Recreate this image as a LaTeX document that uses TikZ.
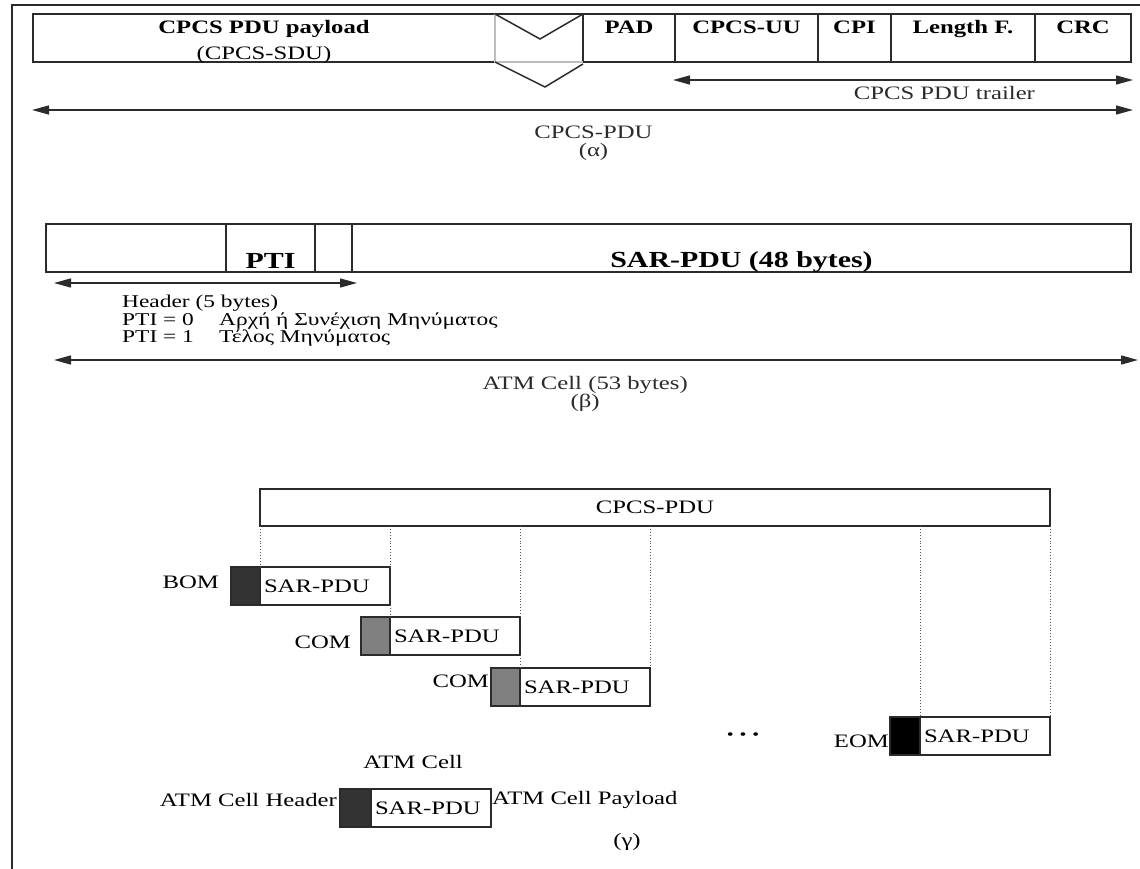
\documentclass[tikz,border=0pt]{standalone}
\usepackage{fontspec}
\setmainfont{Liberation Serif}[FakeStretch=1.3]
\usepackage{xcolor}
\usepackage{tikz}
\usetikzlibrary{arrows.meta,positioning}
\definecolor{cLine}{HTML}{2B2B2B}
\definecolor{cBreak}{HTML}{BDBDBD}
\definecolor{cBom}{HTML}{333333}
\definecolor{cCom}{HTML}{808080}
\definecolor{cEom}{HTML}{000000}
\definecolor{cGuide}{HTML}{555555}
\newcommand{\labfont}{\fontsize{19}{17}\selectfont}
\tikzset{
  >={Triangle[length=17pt,width=9pt]},
  outline/.style={cLine,line width=1.5pt},
  cell/.style   ={draw=cLine,line width=1.5pt,inner sep=0pt,outer sep=0pt,minimum height=48pt},
  piece/.style  ={draw=cLine,line width=1.5pt,inner sep=0pt,outer sep=0pt,minimum height=38pt},
  hdr/.style    ={piece,minimum width=29pt},
  sar/.style    ={piece,text width=122pt,inner xsep=4pt,align=left,font=\labfont},
  dim/.style    ={<->,cLine,line width=1.4pt},
  guide/.style  ={cGuide,line width=0.9pt,dotted},
  rim/.style    ={cLine,line width=2pt},
  brk/.style    ={cBreak,line width=1.2pt},
  lbl/.style    ={inner sep=0pt,font=\labfont},
  blbl/.style   ={inner sep=0pt,font=\labfont\bfseries},
  big/.style    ={inner sep=0pt,font=\fontsize{23}{23}\selectfont\bfseries},
  note/.style   ={inner sep=0pt,align=left,font=\fontsize{18}{14.5}\selectfont},
  caption/.style={inner sep=0pt,align=center,font=\fontsize{19}{18}\selectfont},
}

\begin{document}
\begin{tikzpicture}[x=1pt,y=-1pt]
  \useasboundingbox (0,0) rectangle (1140,869);
  \draw[rim] (11.5,869) -- (11.5,5.5) -- (1140,5.5);

  \node[cell,draw=none,minimum width=462pt,anchor=north west] (pay) at (33,14) {};
  \node[cell,minimum width=92pt,anchor=north west] (pad) at (583,14) {};
  \node[cell,minimum width=143pt,right=0pt of pad] (uu) {};
  \node[cell,minimum width=73pt,right=0pt of uu] (cpi) {};
  \node[cell,minimum width=144pt,right=0pt of cpi] (len) {};
  \node[cell,minimum width=96pt,right=0pt of len] (crc) {};
  \draw[outline] (pay.north east) -- (pay.north west) -- (pay.south west) -- (pay.south east);
  \draw[outline] (pay.north east) -- (pad.north west);
  \draw[brk] (pay.north east) -- (pay.south east) -- (pad.south west);
  \draw[outline] (pay.north east) -- ++(45,25) -- (pad.north west);
  \draw[outline] (pay.south east) -- ++(50,25) -- ([yshift=-2pt]pad.south west);
  \node[blbl,anchor=base] (pay-t) at ([yshift=-20pt]pay.north) {CPCS PDU payload};
  \node[lbl,anchor=base] (pay-s) at ([yshift=2pt]pay.south) {(CPCS-SDU)};
  \foreach \c/\t in {pad/PAD,uu/CPCS-UU,cpi/CPI,len/Length F.,crc/CRC}
    \node[blbl,anchor=base] (\c-t) at ([yshift=-20pt]\c.north) {\t};
  \coordinate (trL) at ([xshift=-2pt,yshift=-18pt]uu.south west);
  \coordinate (trR) at ([xshift=2pt,yshift=-18pt]crc.south east);
  \draw[dim] (trL) -- (trR) node[lbl,pos=0.59,below=6pt] (tr-t) {CPCS PDU trailer};
  \coordinate (pduL) at ([xshift=-1pt,yshift=-48pt]pay.south west);
  \coordinate (pduR) at ([xshift=2pt,yshift=-48pt]crc.south east);
  \draw[dim] (pduL) -- (pduR) node[caption,pos=0.51,below=15pt] (pdu-t) {CPCS-PDU\\(α)};

  \node[cell,minimum width=180pt,anchor=north west] (gfc) at (46,224) {};
  \node[cell,minimum width=89pt,right=0pt of gfc] (pti) {};
  \node[cell,minimum width=37pt,right=0pt of pti] (clp) {};
  \node[cell,minimum width=779pt,right=0pt of clp] (pay48) {};
  \node[big,anchor=base] (pti-t) at ([yshift=4pt]pti.south) {PTI};
  \node[big,anchor=base] (pay48-t) at ([yshift=5pt]pay48.south) {SAR-PDU (48 bytes)};
  \coordinate (hdL) at ([xshift=8pt,yshift=-11pt]gfc.south west);
  \coordinate (hdR) at ([xshift=5pt,yshift=-11pt]clp.south east);
  \draw[dim] (hdL) -- (hdR);
  \node[note,anchor=north west] (hd-t) at ([xshift=68pt,yshift=-12pt]hdL)
    {Header (5 bytes)\\\makebox[97pt][l]{PTI = 0}Αρχή ή Συνέχιση Μηνύματος\\\makebox[97pt][l]{PTI = 1}Τέλος Μηνύματος};
  \coordinate (atL) at ([yshift=-77pt]hdL);
  \path (pay48.south east |- atL) ++(7,0) coordinate (atR);
  \draw[dim] (atL) -- (atR) node[caption,pos=0.49,below=16pt] (at-t) {ATM Cell (53 bytes)\\(β)};

  \node[piece,minimum width=790pt,minimum height=37pt,anchor=north west,font=\labfont] (pdu) at (260,489) {CPCS-PDU};
  \node[hdr,fill=cBom,anchor=north east] (bomH) at (260,567) {};
  \node[sar,right=0pt of bomH] (bomS) {SAR-PDU};
  \node[hdr,fill=cCom,below left=12pt and 0pt of bomS.south east] (com1H) {};
  \node[sar,right=0pt of com1H] (com1S) {SAR-PDU};
  \node[hdr,fill=cCom,below left=13pt and 0pt of com1S.south east] (com2H) {};
  \node[sar,right=0pt of com2H] (com2S) {SAR-PDU};
  \node[hdr,fill=cEom,minimum width=30pt,anchor=north east] (eomH) at (920,717) {};
  \node[sar,right=0pt of eomH] (eomS) {SAR-PDU};
  \node[lbl,left=12pt of bomH,yshift=4pt] (bomL) {BOM};
  \node[lbl,left=10pt of com1H,yshift=-6pt] (com1L) {COM};
  \node[lbl,left=2pt of com2H,yshift=6pt] (com2L) {COM};
  \node[lbl,left=1pt of eomH,yshift=-5pt] (eomL) {EOM};
  \draw[guide] (pdu.south west) -- (bomS.north west);
  \draw[guide] (bomS.north east |- pdu.south) -- (bomS.north east);
  \draw[guide] (bomS.south east) -- (com1S.north west);
  \draw[guide] (com1S.north east |- pdu.south) -- (com1S.north east);
  \draw[guide] (com1S.south east) -- (com2S.north west);
  \draw[guide] (com2S.north east |- pdu.south) -- (com2S.north east);
  \draw[guide] (eomS.north west |- pdu.south) -- (eomS.north west);
  \draw[guide] (pdu.south east) -- (eomS.north east);
  \node[inner sep=0pt,font=\fontsize{15}{15}\selectfont] (more) at (743,736) {\textbullet\hspace{6pt}\textbullet\hspace{6pt}\textbullet};

  \node[hdr,fill=cBom,minimum width=31pt,anchor=north east] (atmH) at (371,789) {};
  \node[sar,text width=112pt,right=0pt of atmH] (atmS) {SAR-PDU};
  \node[lbl,left=3pt of atmH,yshift=8pt] (atmH-t) {ATM Cell Header};
  \node[lbl,right=1pt of atmS,yshift=8pt] (atmP-t) {ATM Cell Payload};
  \node[lbl] (atm-t) at (413,762) {ATM Cell};
  \node[lbl] (gam) at (627,842) {(γ)};
\end{tikzpicture}
\end{document}
